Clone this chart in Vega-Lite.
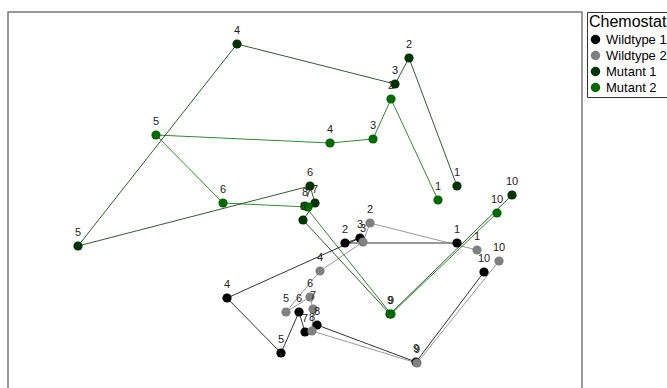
{
  "$schema": "https://vega.github.io/schema/vega-lite/v6.json",
  "width": 574,
  "height": 390,
  "padding": {"left": 8, "top": 11, "right": 0, "bottom": 0},
  "background": "white",
  "config": {
    "font": "Liberation Sans",
    "view": {"stroke": "#777777", "strokeWidth": 1.5},
    "axis": {"grid": false}
  },
  "data": {
    "values": [
      {"group": "Wildtype 1", "t": 1, "x": 0.628, "y": -0.168},
      {"group": "Wildtype 1", "t": 2, "x": 0.18, "y": -0.168},
      {"group": "Wildtype 1", "t": 3, "x": 0.24, "y": -0.148},
      {"group": "Wildtype 1", "t": 4, "x": -0.292, "y": -0.388},
      {"group": "Wildtype 1", "t": 5, "x": -0.076, "y": -0.608},
      {"group": "Wildtype 1", "t": 6, "x": -0.004, "y": -0.444},
      {"group": "Wildtype 1", "t": 7, "x": 0.02, "y": -0.524},
      {"group": "Wildtype 1", "t": 8, "x": 0.068, "y": -0.496},
      {"group": "Wildtype 1", "t": 9, "x": 0.464, "y": -0.644},
      {"group": "Wildtype 1", "t": 10, "x": 0.736, "y": -0.284},
      {"group": "Wildtype 2", "t": 1, "x": 0.708, "y": -0.196},
      {"group": "Wildtype 2", "t": 2, "x": 0.28, "y": -0.088},
      {"group": "Wildtype 2", "t": 3, "x": 0.252, "y": -0.164},
      {"group": "Wildtype 2", "t": 4, "x": 0.08, "y": -0.28},
      {"group": "Wildtype 2", "t": 5, "x": -0.056, "y": -0.444},
      {"group": "Wildtype 2", "t": 6, "x": 0.04, "y": -0.384},
      {"group": "Wildtype 2", "t": 7, "x": 0.052, "y": -0.432},
      {"group": "Wildtype 2", "t": 8, "x": 0.048, "y": -0.52},
      {"group": "Wildtype 2", "t": 9, "x": 0.468, "y": -0.648},
      {"group": "Wildtype 2", "t": 10, "x": 0.796, "y": -0.24},
      {"group": "Mutant 1", "t": 1, "x": 0.628, "y": 0.06},
      {"group": "Mutant 1", "t": 2, "x": 0.436, "y": 0.572},
      {"group": "Mutant 1", "t": 3, "x": 0.38, "y": 0.468},
      {"group": "Mutant 1", "t": 4, "x": -0.252, "y": 0.628},
      {"group": "Mutant 1", "t": 5, "x": -0.888, "y": -0.18},
      {"group": "Mutant 1", "t": 6, "x": 0.04, "y": 0.06},
      {"group": "Mutant 1", "t": 7, "x": 0.06, "y": -0.008},
      {"group": "Mutant 1", "t": 8, "x": 0.012, "y": -0.076},
      {"group": "Mutant 1", "t": 9, "x": 0.36, "y": -0.452},
      {"group": "Mutant 1", "t": 10, "x": 0.848, "y": 0.024},
      {"group": "Mutant 2", "t": 1, "x": 0.552, "y": 0.004},
      {"group": "Mutant 2", "t": 2, "x": 0.364, "y": 0.408},
      {"group": "Mutant 2", "t": 3, "x": 0.292, "y": 0.248},
      {"group": "Mutant 2", "t": 4, "x": 0.12, "y": 0.232},
      {"group": "Mutant 2", "t": 5, "x": -0.576, "y": 0.264},
      {"group": "Mutant 2", "t": 6, "x": -0.308, "y": -0.008},
      {"group": "Mutant 2", "t": 7, "x": 0.032, "y": -0.024},
      {"group": "Mutant 2", "t": 8, "x": 0.02, "y": -0.02},
      {"group": "Mutant 2", "t": 9, "x": 0.364, "y": -0.452},
      {"group": "Mutant 2", "t": 10, "x": 0.788, "y": -0.048}
    ]
  },
  "encoding": {
    "x": {"field": "x", "type": "quantitative", "scale": {"domain": [-1.168, 1.128], "nice": false, "zero": false}, "axis": null},
    "y": {"field": "y", "type": "quantitative", "scale": {"domain": [-0.804, 0.756], "nice": false, "zero": false}, "axis": null},
    "color": {
      "field": "group", "type": "nominal",
      "scale": {"domain": ["Wildtype 1", "Wildtype 2", "Mutant 1", "Mutant 2"], "range": ["#000000", "#808080", "#003300", "#006a00"]},
      "legend": {
        "title": "Chemostat",
        "orient": "right",
        "offset": 5,
        "strokeColor": "#333333",
        "padding": 2,
        "titleFontSize": 16,
        "titleFontWeight": "normal",
        "titleColor": "#000000",
        "titlePadding": 3,
        "labelFontSize": 13,
        "labelColor": "#000000",
        "labelLimit": 200,
        "symbolSize": 90,
        "symbolType": "circle",
        "symbolStrokeWidth": 0,
        "symbolOpacity": 1,
        "rowPadding": 2,
        "labelOffset": 4
      }
    }
  },
  "layer": [
    {
      "mark": {"type": "line", "strokeWidth": 1, "opacity": 0.8},
      "encoding": {
        "detail": {"field": "group"},
        "order": {"field": "t", "type": "quantitative"}
      }
    },
    {
      "mark": {"type": "circle", "size": 85, "opacity": 1}
    },
    {
      "mark": {"type": "text", "dy": -13, "fontSize": 11},
      "encoding": {
        "text": {"field": "t", "type": "quantitative"},
        "color": {"value": "#222222"}
      }
    },
    {
      "data": {"values": [{"label": "2D Stress: 0.11"}]},
      "mark": {"type": "text", "align": "right", "baseline": "middle", "fontSize": 11},
      "encoding": {
        "x": {"datum": 1.1},
        "y": {"datum": 0.72},
        "text": {"field": "label"},
        "color": {"value": "#222222"}
      }
    }
  ]
}
